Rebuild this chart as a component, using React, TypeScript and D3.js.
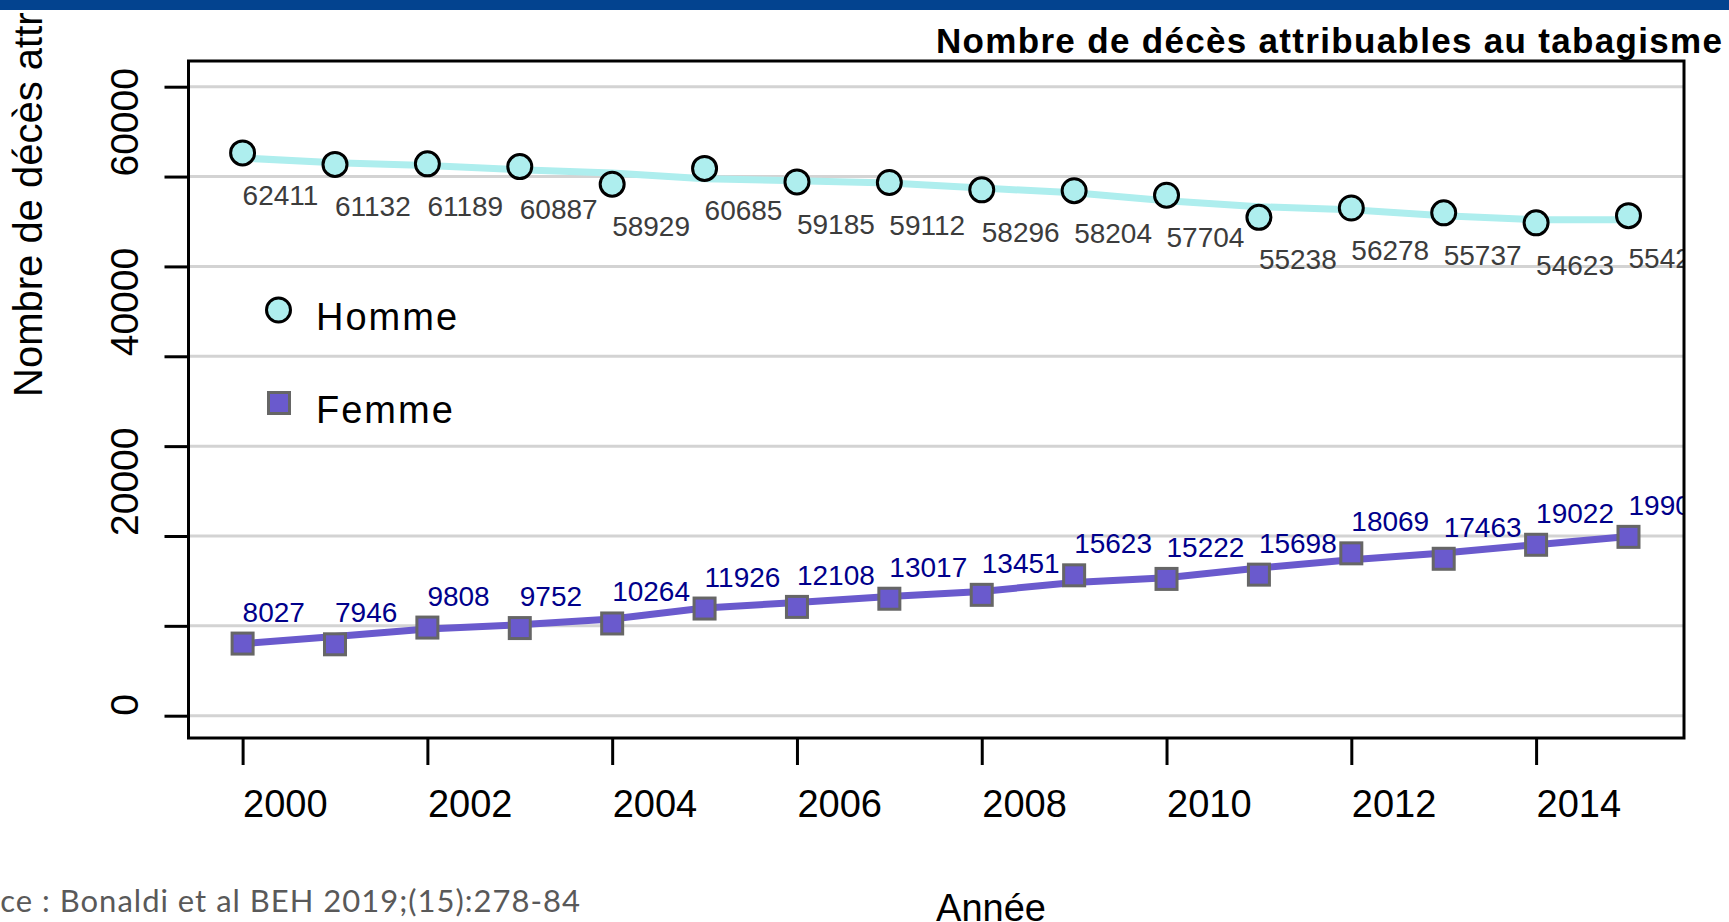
import { useEffect, useRef } from "react";
import * as d3 from "d3";

// années et valeurs
const years = [2000, 2001, 2002, 2003, 2004, 2005, 2006, 2007, 2008, 2009, 2010, 2011, 2012, 2013, 2014, 2015];
const hommeValues = [62411, 61132, 61189, 60887, 58929, 60685, 59185, 59112, 58296, 58204, 57704, 55238, 56278, 55737, 54623, 55428];
const femmeValues = [8027, 7946, 9808, 9752, 10264, 11926, 12108, 13017, 13451, 15623, 15222, 15698, 18069, 17463, 19022, 19904];
// courbes lissées (tendance), lues année par année
const hommeTrend = [62060, 61540, 61240, 60760, 60390, 59760, 59540, 59280, 58720, 58200, 57310, 56640, 56310, 55640, 55200, 55200];
const femmeTrend = [8010, 8820, 9650, 10130, 10760, 11980, 12610, 13270, 13830, 14830, 15360, 16440, 17360, 18110, 19030, 19950];

const yGridTicks = [0, 10000, 20000, 30000, 40000, 50000, 60000, 70000];
const yTickLabels = [0, 20000, 40000, 60000];
const xTicks = [2000, 2002, 2004, 2006, 2008, 2010, 2012, 2014];

const FONT = "'Liberation Sans', Arial, sans-serif";

export default function App() {
  const svgRef = useRef<SVGSVGElement | null>(null);

  useEffect(() => {
    if (!svgRef.current) return;
    const svg = d3.select(svgRef.current);
    svg.selectAll("*").remove();

    const width = 1729;
    const box = { left: 188.5, right: 1684, top: 61, bottom: 738 };

    const x = d3.scaleLinear().domain([2000, 2014]).range([242.6, 1536.1]);
    const y = d3.scaleLinear().domain([0, 70000]).range([715.7, 86.7]);

    svg
      .append("defs")
      .append("clipPath")
      .attr("id", "plot-clip")
      .append("rect")
      .attr("x", box.left)
      .attr("y", box.top)
      .attr("width", box.right - box.left)
      .attr("height", box.bottom - box.top);

    // grille
    svg
      .append("g")
      .selectAll("line")
      .data(yGridTicks)
      .join("line")
      .attr("x1", box.left)
      .attr("x2", box.right)
      .attr("y1", (d) => y(d))
      .attr("y2", (d) => y(d))
      .attr("stroke", "#d3d3d3")
      .attr("stroke-width", 3);

    // axe y : graduations
    svg
      .append("g")
      .attr("transform", `translate(${box.left},0)`)
      .call(d3.axisLeft(y).tickValues(yGridTicks).tickSize(24).tickFormat(() => ""))
      .call((g) => g.select(".domain").remove())
      .call((g) => g.selectAll("line").attr("stroke", "#000").attr("stroke-width", 3));

    svg
      .append("g")
      .selectAll("text")
      .data(yTickLabels)
      .join("text")
      .attr("transform", (d) => `translate(138,${y(d)}) rotate(-90)`)
      .attr("text-anchor", "start")
      .attr("font-family", FONT)
      .attr("font-size", 39)
      .attr("fill", "#000")
      .text((d) => String(d));

    // axe x
    svg
      .append("g")
      .attr("transform", `translate(0,${box.bottom})`)
      .call(d3.axisBottom(x).tickValues(xTicks).tickSize(27).tickFormat(d3.format("d")))
      .call((g) => g.select(".domain").remove())
      .call((g) => g.selectAll("line").attr("stroke", "#000").attr("stroke-width", 3))
      .call((g) =>
        g
          .selectAll("text")
          .attr("text-anchor", "start")
          .attr("y", 79)
          .attr("dy", 0)
          .attr("font-family", FONT)
          .attr("font-size", 38)
          .attr("fill", "#000"),
      );

    const plot = svg.append("g").attr("clip-path", "url(#plot-clip)");

    const line = d3
      .line<number>()
      .x((_, i) => x(years[i]))
      .y((d) => y(d));

    plot
      .append("path")
      .datum(hommeTrend)
      .attr("d", line)
      .attr("fill", "none")
      .attr("stroke", "#aeeeee")
      .attr("stroke-width", 7);

    plot
      .append("path")
      .datum(femmeTrend)
      .attr("d", line)
      .attr("fill", "none")
      .attr("stroke", "#6a5acd")
      .attr("stroke-width", 7);

    plot
      .append("g")
      .selectAll("circle")
      .data(hommeValues)
      .join("circle")
      .attr("cx", (_, i) => x(years[i]))
      .attr("cy", (d) => y(d) - 2)
      .attr("r", 12)
      .attr("fill", "#aeeeee")
      .attr("stroke", "#000")
      .attr("stroke-width", 3);

    const sq = 21;
    plot
      .append("g")
      .selectAll("rect")
      .data(femmeValues)
      .join("rect")
      .attr("x", (_, i) => x(years[i]) - sq / 2)
      .attr("y", (d) => y(d) - sq / 2)
      .attr("width", sq)
      .attr("height", sq)
      .attr("fill", "#6a5acd")
      .attr("stroke", "#666")
      .attr("stroke-width", 3);

    plot
      .append("g")
      .selectAll("text")
      .data(hommeValues)
      .join("text")
      .attr("x", (_, i) => x(years[i]))
      .attr("y", (d) => y(d) + 50)
      .attr("font-family", FONT)
      .attr("font-size", 28)
      .attr("fill", "#3c3c3c")
      .text((d) => String(d));

    plot
      .append("g")
      .selectAll("text")
      .data(femmeValues)
      .join("text")
      .attr("x", (_, i) => x(years[i]))
      .attr("y", (d) => y(d) - 22)
      .attr("font-family", FONT)
      .attr("font-size", 28)
      .attr("fill", "#00008b")
      .text((d) => String(d));

    // cadre
    svg
      .append("rect")
      .attr("x", box.left)
      .attr("y", box.top)
      .attr("width", box.right - box.left)
      .attr("height", box.bottom - box.top)
      .attr("fill", "none")
      .attr("stroke", "#000")
      .attr("stroke-width", 3);

    // légende
    const legend = svg.append("g");
    legend
      .append("circle")
      .attr("cx", 278.5)
      .attr("cy", 310)
      .attr("r", 12)
      .attr("fill", "#aeeeee")
      .attr("stroke", "#000")
      .attr("stroke-width", 3);
    legend
      .append("rect")
      .attr("x", 279 - sq / 2)
      .attr("y", 403 - sq / 2)
      .attr("width", sq)
      .attr("height", sq)
      .attr("fill", "#6a5acd")
      .attr("stroke", "#666")
      .attr("stroke-width", 3);
    legend
      .selectAll("text")
      .data([
        { label: "Homme", y: 330 },
        { label: "Femme", y: 423 },
      ])
      .join("text")
      .attr("x", 316)
      .attr("y", (d) => d.y)
      .attr("font-family", FONT)
      .attr("font-size", 38)
      .attr("letter-spacing", 2)
      .attr("fill", "#000")
      .text((d) => d.label);

    // titres
    svg
      .append("text")
      .attr("x", 936)
      .attr("y", 53)
      .attr("font-family", FONT)
      .attr("font-weight", "bold")
      .attr("font-size", 35)
      .attr("textLength", 786)
      .attr("lengthAdjust", "spacing")
      .attr("fill", "#000")
      .text("Nombre de décès attribuables au tabagisme");

    svg
      .append("text")
      .attr("transform", "translate(42,397) rotate(-90)")
      .attr("font-family", FONT)
      .attr("font-size", 40)
      .attr("fill", "#000")
      .text("Nombre de décès attribuables au tabagisme");

    svg
      .append("text")
      .attr("x", 991)
      .attr("y", 921)
      .attr("text-anchor", "middle")
      .attr("font-family", FONT)
      .attr("font-size", 38)
      .attr("fill", "#000")
      .text("Année");

    svg
      .append("text")
      .attr("x", -66)
      .attr("y", 912)
      .attr("font-family", "Lato, 'Open Sans', sans-serif")
      .attr("font-size", 31)
      .attr("textLength", 646)
      .attr("lengthAdjust", "spacing")
      .attr("fill", "#595959")
      .text("Source : Bonaldi et al BEH 2019;(15):278-84");

    // bandeau bleu
    svg.append("rect").attr("x", 0).attr("y", 0).attr("width", width).attr("height", 10).attr("fill", "#03438f");
  }, []);

  return (
    <svg
      ref={svgRef}
      width={1729}
      height={922}
      style={{ position: "fixed", left: 0, top: 0, background: "#fff" }}
    />
  );
}
